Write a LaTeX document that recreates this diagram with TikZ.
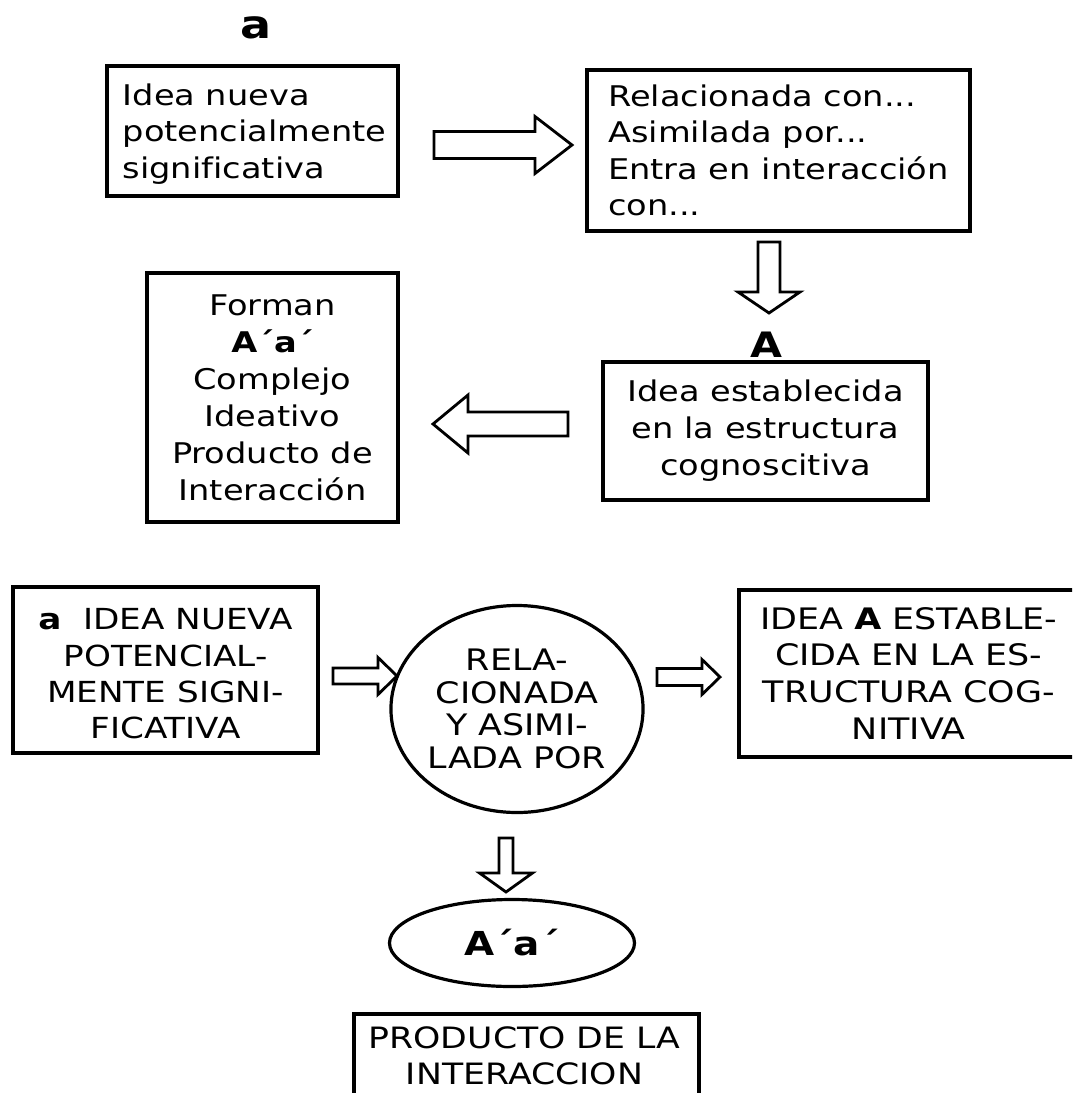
\documentclass[tikz,border=0pt]{standalone}
\usepackage{fontspec}
\setmainfont{DejaVu Sans}[FakeStretch=1.18, Ligatures=NoCommon]
\usetikzlibrary{shapes.geometric}
\tikzset{
  boxst/.style={draw, line width=3.5pt, inner sep=0pt, align=center},
  plain/.style={inner sep=0pt},
  txt/.style={font=\fontsize{28.5}{36.5}\selectfont},
  blk/.style={draw, line width=2.8pt, fill=white, line join=miter},
}
\newcommand\harrow[6]{\draw[blk] (#1,#4-#5) -- (#2,#4-#5) -- (#2,#4-#6) -- (#3,#4) -- (#2,#4+#6) -- (#2,#4+#5) -- (#1,#4+#5) -- cycle;}
\newcommand\varrow[6]{\draw[blk] (#1-#5,#2) -- (#1-#5,#3) -- (#1-#6,#3) -- (#1,#4) -- (#1+#6,#3) -- (#1+#5,#3) -- (#1+#5,#2) -- cycle;}
\begin{document}
\begin{tikzpicture}[x=1pt,y=-1pt]
\useasboundingbox (0,0) rectangle (1072,1093);
\clip (0,0) rectangle (1072,1093);
\fill[white] (0,0) rectangle (1072,1093);

% top part
\node[font=\fontsize{39}{44}\selectfont\bfseries, anchor=base] (la) at (256,38) {a};
\node[boxst, minimum width=291, minimum height=130] (b1) at (252.5,131) {};
\node[plain, txt, align=left] (b1t) at (254.5,134)
  {Idea nueva\\potencialmente\\significativa};
\node[boxst, txt, align=left, minimum width=383, minimum height=161] (b2) at (778.5,150.5)
  {Relacionada con...\\Asimilada por...\\Entra en interacción\\con...};
\node[font=\fontsize{35}{40}\selectfont\bfseries, anchor=base] (lA) at (766,357) {A};
\node[boxst, txt, minimum width=325, minimum height=138, font=\fontsize{28.5}{37}\selectfont] (b3) at (765.5,431)
  {Idea establecida\\en la estructura\\cognoscitiva};
\node[boxst, minimum width=251, minimum height=249, font=\fontsize{28.5}{37}\selectfont] (b4) at (272.5,397.5)
  {Forman\\\textbf{A´a´}\\Complejo\\Ideativo\\Producto de\\Interacción};

\harrow{434}{535}{572}{145}{13.5}{28.5}
\varrow{769}{242}{292}{313}{11}{31}
\harrow{568}{468}{433}{424}{12}{29}

% bottom part
\node[boxst, minimum width=305, minimum height=166] (c1) at (165.5,670) {};
\node[plain, align=center, font=\fontsize{29}{36.3}\selectfont] (c1t) at (165.5,674)
  {\textbf{a}\ \ IDEA NUEVA\\POTENCIAL-\\MENTE SIGNI-\\FICATIVA};
\node[draw, ellipse, line width=3.2pt, inner sep=0pt, align=center, minimum width=250, minimum height=207,
  font=\fontsize{29.6}{32.5}\selectfont] (c2) at (517,709)
  {RELA-\\CIONADA\\Y ASIMI-\\LADA POR};
\node[boxst, anchor=north west, minimum width=340, minimum height=167, font=\fontsize{29.6}{36.7}\selectfont] (c3) at (737,588)
  {IDEA \textbf{A} ESTABLE-\\CIDA EN LA ES-\\TRUCTURA COG-\\NITIVA};

\harrow{333}{378}{397}{676}{8}{18.5}
\harrow{657}{702}{720}{677}{8.5}{17.5}
\varrow{506}{838}{873}{892}{7}{26.5}

\node[draw, ellipse, line width=3.2pt, inner sep=0pt, minimum width=245, minimum height=87,
  font=\fontsize{33}{36}\selectfont\bfseries] (c4) at (512,943) {A´a´};
\node[draw, line width=3.5pt, anchor=north west, minimum width=345, minimum height=130] (c5) at (352,1012) {};
\node[plain, align=center, font=\fontsize{29.4}{35.5}\selectfont] (c5t) at (524.5,1056)
  {PRODUCTO DE LA\\INTERACCION};
\end{tikzpicture}
\end{document}
